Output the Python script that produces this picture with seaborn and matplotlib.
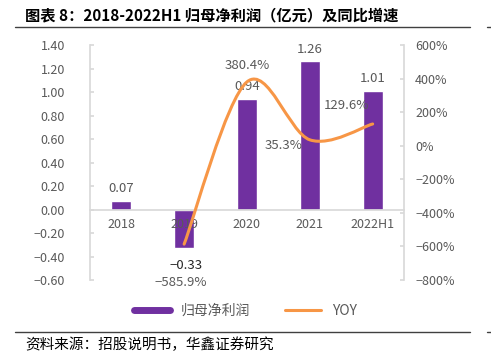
import numpy as np
import pandas as pd
import seaborn as sns
import matplotlib.pyplot as plt
from matplotlib.path import Path
from matplotlib.patches import PathPatch
from matplotlib.lines import Line2D

# data
years = ["2018", "2019", "2020", "2021", "2022H1"]
profit = [0.07, -0.33, 0.94, 1.26, 1.01]          # 归母净利润（亿元）
yoy = [None, -585.9, 380.4, 35.3, 129.6]          # 同比增速 %

sns.set_theme(style="white")
plt.rcParams['font.family'] = ['Noto Sans CJK SC', 'DejaVu Sans']
plt.rcParams['axes.unicode_minus'] = False

purple = "#7030A0"
orange = "#F79646"
grey = "#595959"
spine_c = "#D9D9D9"

df = pd.DataFrame({"year": years, "profit": profit})

fig = plt.figure(figsize=(4.91, 3.6), dpi=100)
ax = fig.add_axes([0.183, 0.222, 0.64, 0.653])

sns.barplot(data=df, x="year", y="profit", color=purple, width=0.32,
            saturation=1, ax=ax)
ax.set_axisbelow(False)
ax.set_ylim(-0.6, 1.4)
ax.set_yticks(np.arange(-0.6, 1.41, 0.2))
ax.set_yticklabels([f"{v:.2f}".replace("-", "−") for v in np.arange(-0.6, 1.41, 0.2)])
ax.set_xlim(-0.5, 4.5)
ax.set_xlabel("")
ax.set_ylabel("")
ax.spines['top'].set_visible(False)
ax.spines['right'].set_visible(False)
ax.spines['left'].set_color(spine_c)
ax.spines['bottom'].set_color(spine_c)
ax.spines['bottom'].set_position(('data', 0))
ax.tick_params(axis='y', colors=grey, labelsize=9, direction='in', length=3,
               color=spine_c, pad=18)
ax.tick_params(axis='x', colors=grey, labelsize=9, length=0, pad=6)

# bar labels
for i, v in enumerate(profit):
    if v >= 0:
        ax.text(i, v + 0.05, f"{v:.2f}", ha='center', va='bottom',
                fontsize=9.5, color=grey)
    else:
        ax.text(i + 0.03, v - 0.145, f"{v:.2f}".replace("-", "−"), ha='center',
                va='center', fontsize=9.5, color="#262626")

# right axis with smoothed YOY line
ax2 = ax.twinx()
ax2.set_ylim(-800, 600)
ax2.set_yticks(np.arange(-800, 601, 200))
ax2.set_yticklabels([f"{v}%".replace("-", "−") for v in range(-800, 601, 200)])
for s in ['top', 'left', 'bottom']:
    ax2.spines[s].set_visible(False)
ax2.spines['right'].set_color(spine_c)
ax2.tick_params(axis='y', colors=grey, labelsize=9, direction='in', length=3,
                color=spine_c, pad=8)
ax2.grid(False)

xs = [i for i, v in enumerate(yoy) if v is not None]
ys = [v for v in yoy if v is not None]
pts = list(zip(xs, ys))
verts = [pts[0]]
codes = [Path.MOVETO]
for k in range(len(pts) - 1):
    p0 = pts[k - 1] if k > 0 else pts[k]
    p1 = pts[k]
    p2 = pts[k + 1]
    p3 = pts[k + 2] if k + 2 < len(pts) else pts[k + 1]
    c1 = (p1[0] + (p2[0] - p0[0]) / 6, p1[1] + (p2[1] - p0[1]) / 6)
    c2 = (p2[0] - (p3[0] - p1[0]) / 6, p2[1] - (p3[1] - p1[1]) / 6)
    verts += [c1, c2, p2]
    codes += [Path.CURVE4] * 3
ax2.add_patch(PathPatch(Path(verts, codes), fill=False, edgecolor=orange,
                        lw=2.2, capstyle='round', zorder=3))

# YOY labels
yoy_pos = {1: (-0.05, -815, 'center'), 2: (0.0, 440, 'bottom'),
           3: (-0.42, 0, 'center'), 4: (-0.42, 240, 'center')}
for i, (dx, yy, va) in yoy_pos.items():
    ax2.text(i + dx, yy, f"{yoy[i]:.1f}%".replace("-", "−"), ha='center',
             va=va, fontsize=9.5, color=grey, clip_on=False)

# legend
handles = [Line2D([], [], color=purple, lw=5),
           Line2D([], [], color=orange, lw=2.2)]
fig.legend(handles, ["归母净利润", "YOY"], loc='center', ncol=2,
           bbox_to_anchor=(0.5, 0.136), frameon=False, fontsize=10,
           labelcolor=grey, handlelength=2.6, columnspacing=2.5)

# title and source
fig.text(0.051, 0.958, "图表 8：2018-2022H1 归母净利润（亿元）及同比增速",
         fontsize=11, fontweight='bold', color='black', va='center')
fig.add_artist(Line2D([0.03, 0.957], [0.925, 0.925], color='#404040', lw=1))
fig.add_artist(Line2D([0.992, 1.0], [0.925, 0.925], color='#404040', lw=1))
fig.add_artist(Line2D([0.03, 0.957], [0.078, 0.078], color='#404040', lw=1))
fig.add_artist(Line2D([0.992, 1.0], [0.078, 0.078], color='#404040', lw=1))
fig.text(0.051, 0.042, "资料来源：招股说明书，华鑫证券研究", fontsize=10.5,
         color='black', va='center')

fig.savefig("out.png", dpi=100)
